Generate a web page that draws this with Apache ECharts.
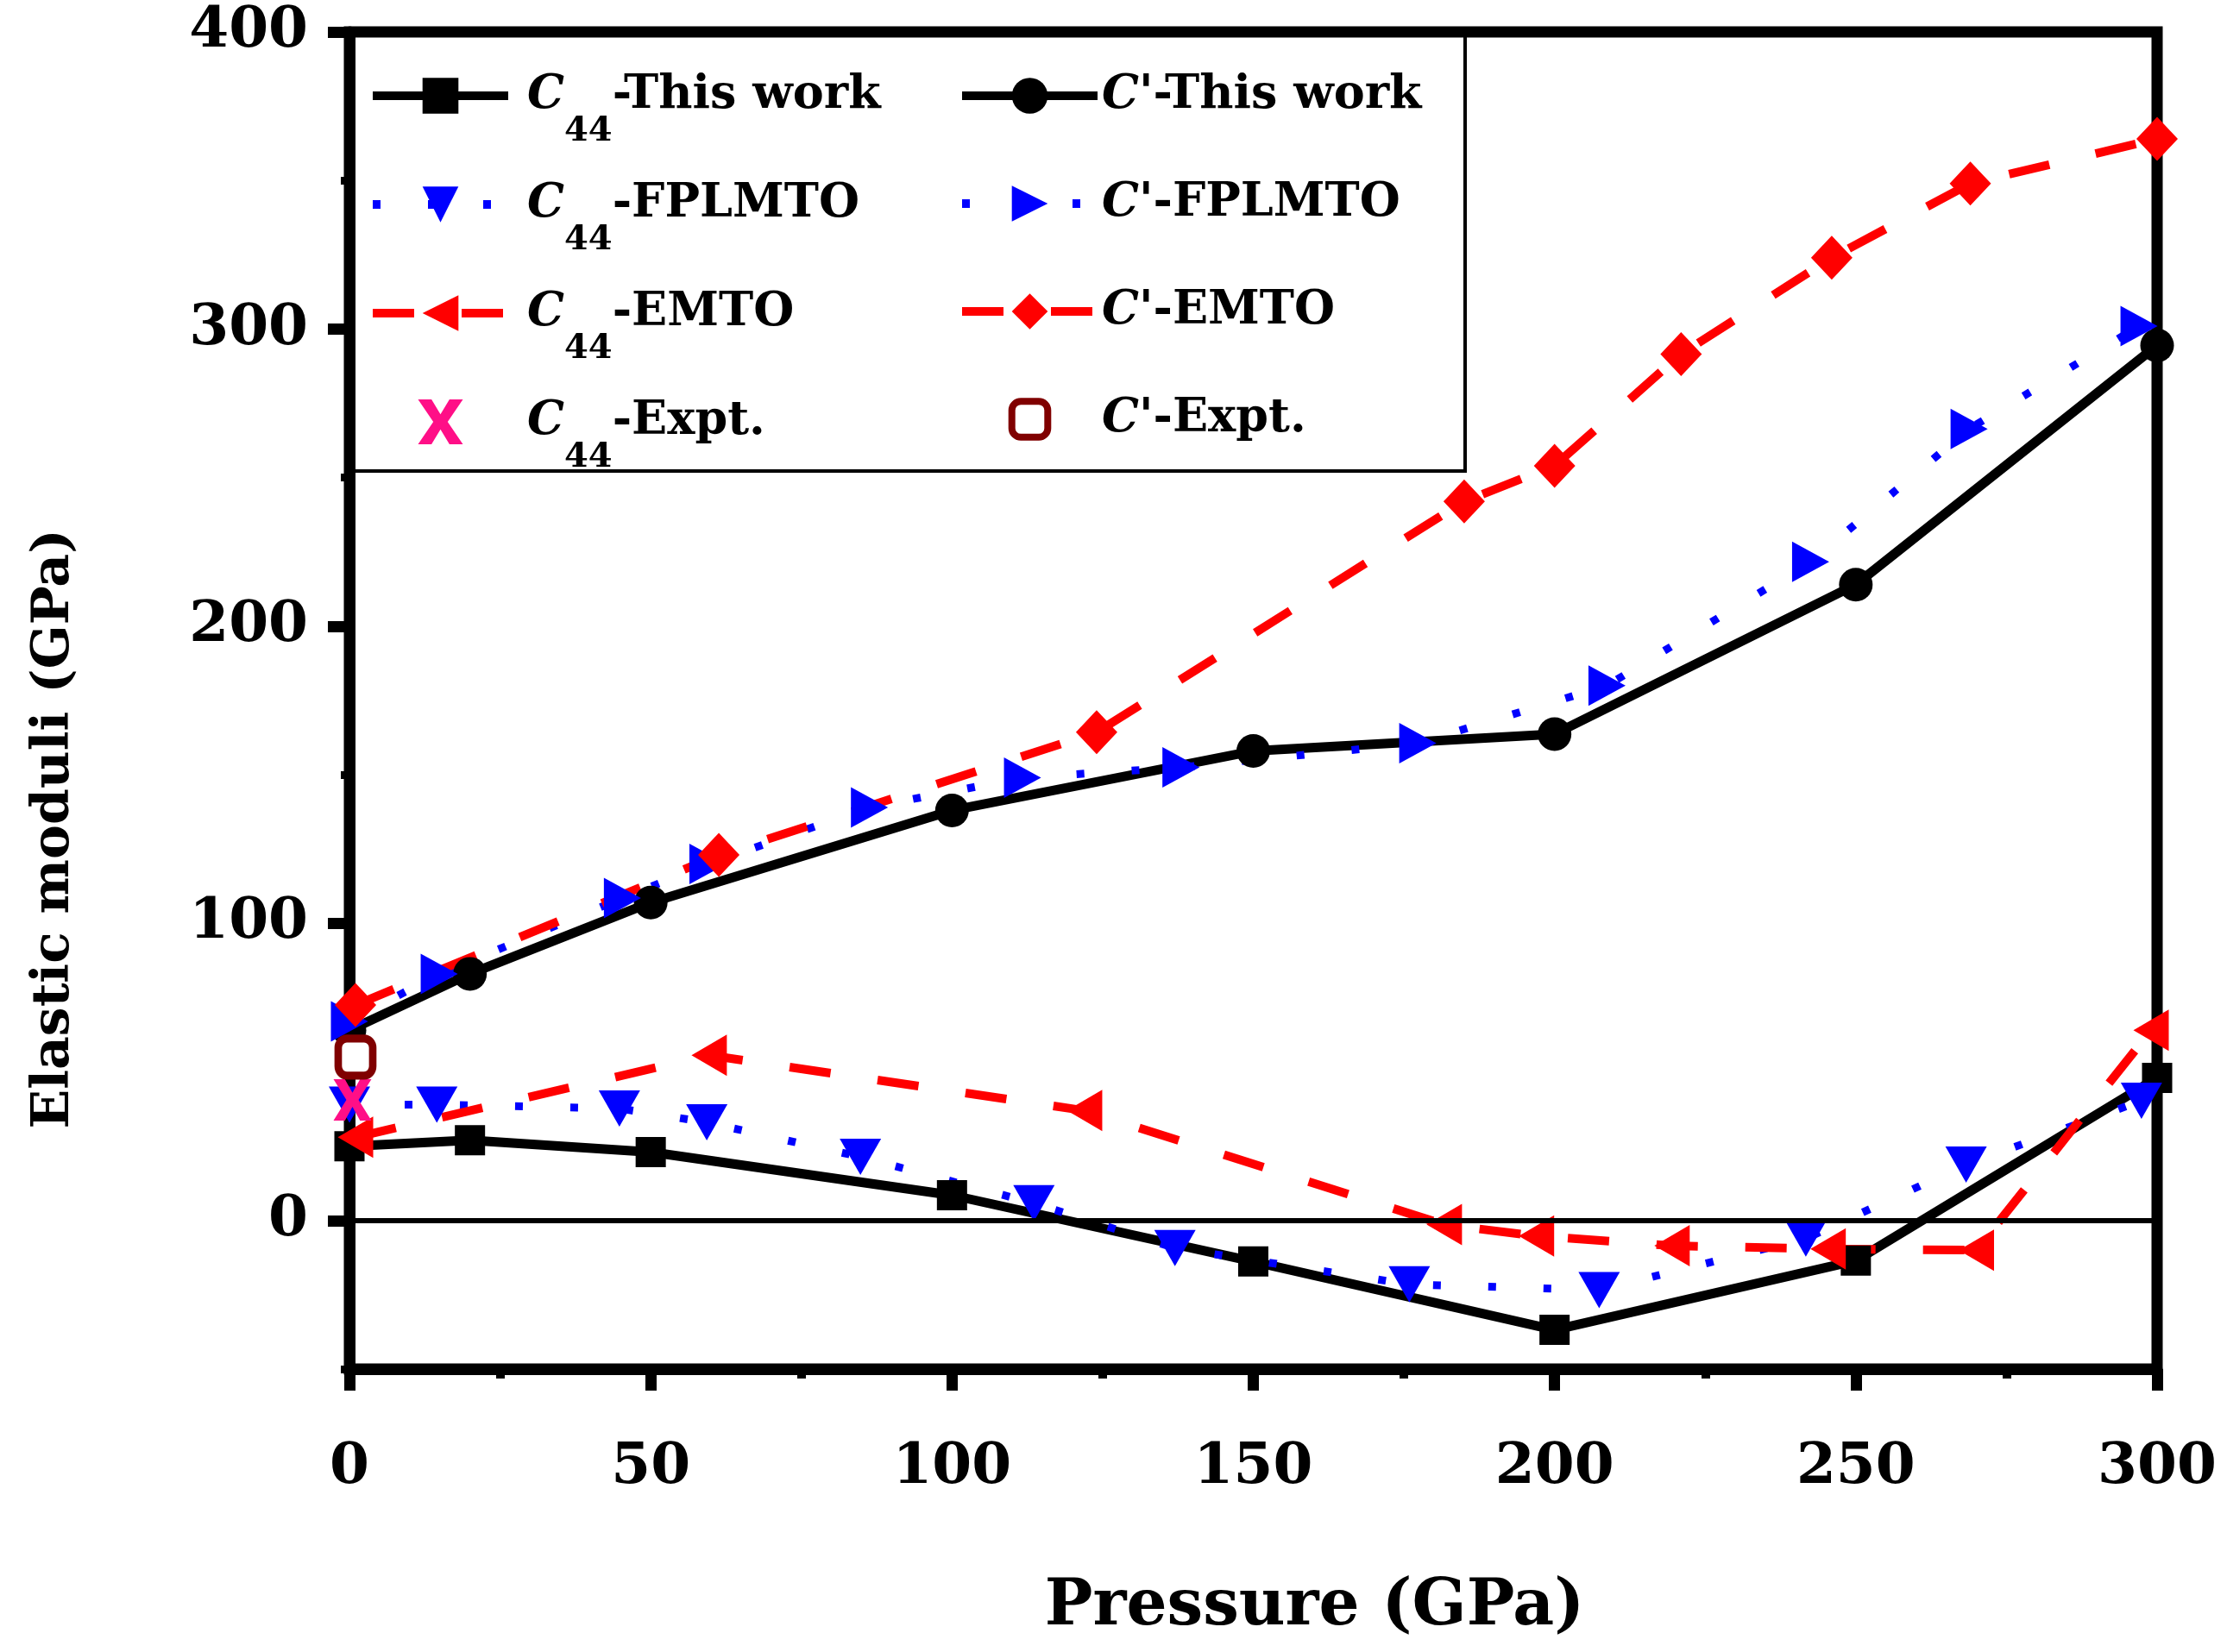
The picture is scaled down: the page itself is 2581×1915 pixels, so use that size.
<!DOCTYPE html>
<html>
<head>
<meta charset="utf-8">
<script src="https://cdn.jsdelivr.net/npm/echarts@6/dist/echarts.min.js"></script>
<style>
html, body { margin: 0; padding: 0; background: #fff; }
#chart { width: 2581px; height: 1915px; }
</style>
</head>
<body>
<div id="chart"></div>
<script>
// values: pressure (GPa) -> modulus (GPa)
var pressWork = [0, 20, 50, 100, 150, 200, 250, 300];
var c44Work = [25, 27, 23, 8.5, -13.8, -36.8, -13.5, 48];
var cpWork = [64, 83, 107, 138, 158, 163.7, 214, 294.5];

var pressC44Fp = [0, 14.5, 44.8, 59.3, 84.8, 113.6, 137, 175.9, 207.4, 241.7, 268.3, 297.4];
var c44Fp = [39, 39, 37.7, 33, 21.4, 5.8, -9.3, -21.5, -23.4, -6.1, 18.8, 40.3];

var pressCpFp = [0, 14.9, 45.3, 59.5, 86.3, 111.7, 138, 177.3, 208.7, 242.5, 268.8, 297];
var cpFp = [67, 83, 108.5, 120, 139, 149, 152.5, 160.6, 180, 221.7, 266.4, 301];

var pressC44Em = [1, 59.7, 122, 181.7, 197, 219.5, 245.4, 270, 299];
var c44Em = [28, 55.6, 37, -1.4, -5.2, -8.5, -9.6, -10, 64];

var pressCpEm = [1, 61.3, 124, 185, 200, 221, 246, 269, 300];
var cpEm = [72.5, 123, 164.3, 242, 254, 291.6, 324, 349, 364];

var pressC44Ex = [0.5];
var c44Ex = [40.6];
var pressCpEx = [1];
var cpEx = [55];

var yTicks = [0, 100, 200, 300, 400];

var FONT = '"DejaVu Serif", serif';

function zip(xs, ys) {
	var out = [];
	for (var i = 0; i < xs.length; i++) {
		out.push([xs[i], ys[i]]);
	}
	return out;
}

function mkLine(name, xs, ys, color, dash, width, symbol, size) {
	return {
		name: name,
		type: 'line',
		data: zip(xs, ys),
		symbol: symbol,
		symbolSize: size,
		showSymbol: true,
		clip: false,
		lineStyle: { color: color, width: width, type: dash },
		itemStyle: { color: color, borderWidth: 0 }
	};
}

var triDown = 'path://M0,0L2,0L1,2Z';
var triRight = 'path://M0,0L2,1L0,2Z';
var triLeft = 'path://M2,0L0,1L2,2Z';
var cross = 'path://M0,0H3L5,3.3L7,0H10L6.6,5L10,10H7L5,6.7L3,10H0L3.4,5Z';

var redDash = [48, 55];
var blueDot = [9, 55];

var series = [
	mkLine('C44-This work', pressWork, c44Work, '#000', 'solid', 11, 'rect', 35),
	mkLine("C'-This work", pressWork, cpWork, '#000', 'solid', 11, 'circle', 39),
	mkLine('C44-FPLMTO', pressC44Fp, c44Fp, '#0000FF', blueDot, 9, triDown, [48, 42]),
	mkLine("C'-FPLMTO", pressCpFp, cpFp, '#0000FF', blueDot, 9, triRight, [43, 47]),
	mkLine('C44-EMTO', pressC44Em, c44Em, '#FF0000', redDash, 10, triLeft, [41, 48]),
	mkLine("C'-EMTO", pressCpEm, cpEm, '#FF0000', redDash, 10, 'diamond', [48, 51]),
	mkLine('C44-Expt.', pressC44Ex, c44Ex, '#FF0F87', 'solid', 10, cross, [44, 48]),
	mkLine("C'-Expt.", pressCpEx, cpEx, '#800000', 'solid', 10, 'roundRect', [40, 43])
];
// experimental points: markers only
series[6].lineStyle.opacity = 0;
series[7].lineStyle.opacity = 0;
series[7].itemStyle = { color: '#fff', borderColor: '#800000', borderWidth: 9 };
// zero line
series[0].markLine = {
	silent: true,
	symbol: ['none', 'none'],
	label: { show: false },
	lineStyle: { color: '#000', type: 'solid', width: 6 },
	data: [{ yAxis: 0 }]
};

function legendName(name) {
	if (name.indexOf('C44') === 0) {
		return '{c|C}{s|44}{t|' + name.slice(3) + '}';
	}
	return "{cp|C'}{tp|" + name.slice(2) + '}';
}

var legendRich = {
	c: { fontFamily: FONT, fontWeight: 'bold', fontStyle: 'italic', fontSize: 54, lineHeight: 124, color: '#000', padding: [0, 0, 0, 17] },
	s: { fontFamily: FONT, fontWeight: 'bold', fontSize: 40, lineHeight: 44, verticalAlign: 'bottom', color: '#000' },
	t: { fontFamily: FONT, fontWeight: 'bold', fontSize: 54, lineHeight: 124, color: '#000' },
	cp: { fontFamily: FONT, fontWeight: 'bold', fontStyle: 'italic', fontSize: 54, color: '#000' },
	tp: { fontFamily: FONT, fontWeight: 'bold', fontSize: 54, color: '#000' }
};

function mkLegend(left, gap, names) {
	return {
		orient: 'vertical',
		left: left,
		top: 84,
		padding: 0,
		itemGap: gap,
		itemWidth: 157,
		itemHeight: 52,
		selectedMode: false,
		lineStyle: { width: 10 },
		formatter: legendName,
		textStyle: { rich: legendRich },
		data: names
	};
}

var chart = echarts.init(document.getElementById('chart'));
chart.setOption({
	animation: false,
	backgroundColor: '#fff',
	grid: {
		left: 405,
		right: 81,
		top: 37,
		bottom: 328,
		show: true,
		borderColor: '#000',
		borderWidth: 13,
		backgroundColor: 'transparent'
	},
	legend: [
		mkLegend(427, 37, ['C44-This work', 'C44-FPLMTO', 'C44-EMTO', { name: 'C44-Expt.', icon: cross }]),
		mkLegend(1110, 71, ["C'-This work", "C'-FPLMTO", "C'-EMTO", { name: "C'-Expt.", itemStyle: { borderWidth: 8, borderColor: '#800000', color: '#fff' } }])
	],
	graphic: [{
		type: 'rect',
		shape: { x: 410, y: 37, width: 1288, height: 509 },
		style: { fill: 'none', stroke: '#000', lineWidth: 4 },
		silent: true
	}],
	xAxis: {
		type: 'value',
		min: 0,
		max: 300,
		interval: 50,
		name: 'Pressure (GPa)',
		nameLocation: 'middle',
		nameGap: 240,
		nameTextStyle: { fontFamily: FONT, fontWeight: 'bold', fontSize: 74, color: '#000', padding: [0, 0, 0, 142] },
		axisLine: { show: true, onZero: false, lineStyle: { color: '#000', width: 13 } },
		axisTick: { show: true, inside: false, length: 25, lineStyle: { color: '#000', width: 13 } },
		minorTick: { show: true, splitNumber: 2, length: 11, lineStyle: { color: '#000', width: 10 } },
		axisLabel: { margin: 82, color: '#000', fontFamily: FONT, fontWeight: 'bold', fontSize: 66 },
		splitLine: { show: false },
		minorSplitLine: { show: false }
	},
	yAxis: [{
		type: 'value',
		min: -50,
		max: 400,
		interval: 50,
		position: 'left',
		name: 'Elastic moduli (GPa)',
		nameLocation: 'middle',
		nameGap: 312,
		nameTextStyle: { fontFamily: FONT, fontWeight: 'bold', fontSize: 60, color: '#000', padding: [0, 298, 0, 0] },
		axisLine: { show: true, onZero: false, lineStyle: { color: '#000', width: 13 } },
		axisTick: { show: true, inside: false, length: 25, customValues: yTicks, lineStyle: { color: '#000', width: 13 } },
		axisLabel: { customValues: yTicks, margin: 48, color: '#000', fontFamily: FONT, fontWeight: 'bold', fontSize: 66 },
		splitLine: { show: false }
	}, {
		type: 'value',
		min: -50,
		max: 400,
		interval: 50,
		position: 'left',
		axisLine: { show: false, onZero: false },
		axisTick: { show: true, inside: false, length: 10, lineStyle: { color: '#000', width: 9 } },
		axisLabel: { show: false },
		splitLine: { show: false }
	}],
	series: series
});
</script>
</body>
</html>
